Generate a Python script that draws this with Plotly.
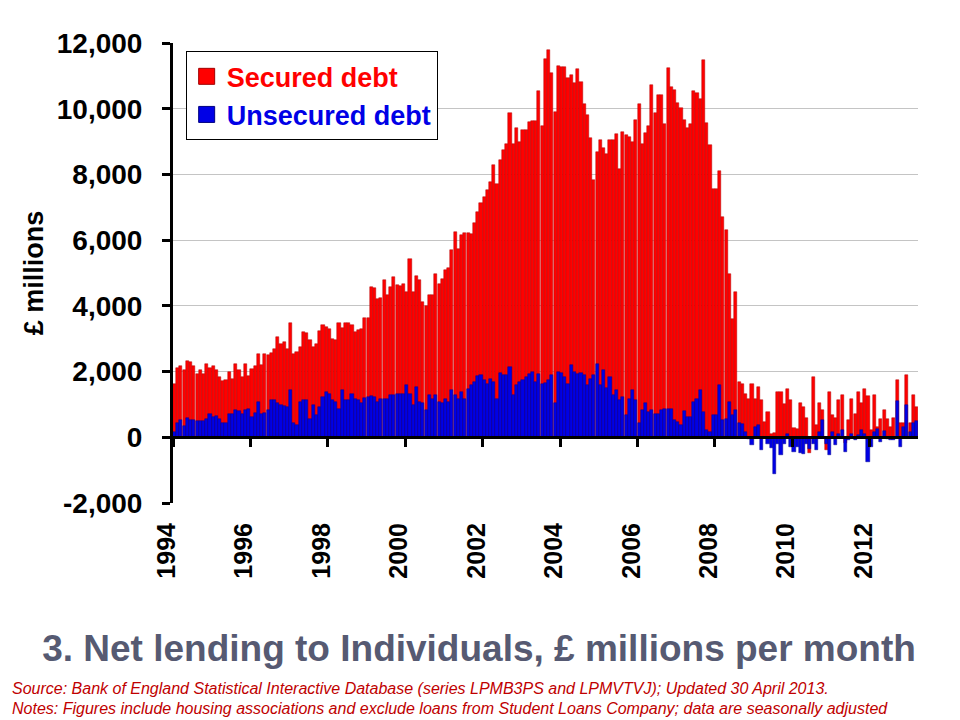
import pandas as pd
import plotly.graph_objects as go

# monthly net lending to individuals, Jan 1994 - Mar 2013 (GBP millions)
months = pd.date_range("1994-01-01", "2013-03-01", freq="MS")

# red bars (secured), as drawn from zero
secured_debt = [
    1630, 2120, 2180, 2040, 2310, 2290, 2160, 1940, 2040, 1940, 2240, 2120,  # 1994
    2160, 2060, 1820, 1700, 1740, 1990, 1760, 2220, 2040, 1820, 2240, 1860,  # 1995
    2090, 2160, 2520, 2190, 2520, 2500, 2570, 2700, 3060, 2850, 2900, 2700,  # 1996
    3490, 2530, 2600, 2750, 3210, 3180, 2950, 2750, 2850, 3230, 3410, 3360,  # 1997
    3310, 3000, 2970, 3490, 3340, 3490, 3490, 3410, 3210, 3260, 3290, 3640,  # 1998
    3630, 4580, 4530, 4220, 4250, 4780, 4320, 4580, 4880, 4630, 4600, 4680,  # 1999
    4430, 5440, 4430, 4900, 4780, 4120, 3990, 4320, 4320, 4980, 4680, 4830,  # 2000
    5090, 5140, 5690, 6250, 5740, 6150, 6230, 6230, 6180, 6510, 6860, 7120,  # 2001
    7320, 7520, 7770, 8280, 7720, 8430, 8740, 8940, 9860, 8940, 9400, 8990,  # 2002
    9350, 9350, 9600, 9630, 9630, 10540, 9470, 11500, 11800, 11100, 9900, 11300,  # 2003
    11280, 11280, 10920, 11040, 10770, 11210, 10800, 10130, 9800, 9120, 7830, 8690,  # 2004
    9060, 8810, 8610, 9060, 9040, 9240, 8180, 9300, 9200, 9150, 8990, 9650,  # 2005
    10130, 8940, 9250, 9480, 10720, 9860, 10410, 10410, 9550, 11250, 10670, 10570,  # 2006
    10160, 10030, 9650, 9420, 9550, 10540, 10490, 10310, 11480, 9580, 8890, 7550,  # 2007
    7550, 8100, 6710, 6300, 4960, 3610, 4420, 1680, 1630, 1330, 1180, 1630,  # 2008
    1180, 1530, 1150, 470, 770, 110, 120, 1370, 1370, 1000, 1460, 1130,  # 2009
    270, 260, 1030, 920, 600, -480, 1820, 370, 1030, 820, -380, 1380,  # 2010
    670, 600, 1130, 1280, -170, 520, 1180, 720, 1380, 1030, 1480, 1250,  # 2011
    210, 1280, 310, 570, 840, 570, 300, 600, 1740, 420, 450, 1910,  # 2012
    420, 1300, 920,  # 2013
]

# blue bars (unsecured), drawn in front
unsecured_debt = [
    160, 420, 520, 340, 600, 520, 520, 500, 500, 500, 570, 720,  # 1994
    620, 650, 570, 420, 420, 720, 700, 820, 790, 720, 840, 870,  # 1995
    620, 740, 1080, 720, 740, 820, 1130, 1150, 1030, 970, 940, 920,  # 1996
    1430, 420, 365, 1080, 1150, 1130, 570, 970, 670, 920, 1230, 1380,  # 1997
    1330, 1130, 1080, 870, 1450, 1130, 1130, 1310, 1180, 1130, 1030, 1210,  # 1998
    1230, 1250, 1230, 1080, 1180, 1180, 1160, 1280, 1280, 1310, 1330, 1330,  # 1999
    1580, 1330, 970, 1530, 1080, 1030, 820, 1280, 1180, 1280, 1080, 1030,  # 2000
    1180, 1080, 1430, 1280, 1180, 1380, 1180, 1480, 1580, 1680, 1860, 1890,  # 2001
    1730, 1630, 1780, 1680, 1180, 1960, 1890, 1890, 2140, 1280, 1580, 1680,  # 2002
    1730, 1830, 1930, 1990, 1680, 1930, 1630, 1650, 1750, 1890, 1030, 1990,  # 2003
    1970, 1840, 1630, 2190, 1990, 1940, 1970, 1890, 1580, 1780, 1890, 2240,  # 2004
    1580, 2040, 1490, 1840, 1280, 1430, 1130, 1230, 670, 1180, 1430, 1130,  # 2005
    420, 830, 1030, 770, 830, 720, 720, 830, 870, 870, 870, 520,  # 2006
    470, 360, 790, 620, 620, 1080, 1180, 1430, 770, 210, 160, 670,  # 2007
    670, 1580, 520, 560, 1080, 670, 830, 420, 400, 160, -40, -240,  # 2008
    300, 360, -400, 10, -190, -340, -1110, -190, -530, -190, 110, -290,  # 2009
    -450, -300, -480, -500, -190, -350, -190, -400, 160, 520, -190, -550,  # 2010
    160, -240, 90, 210, -450, -90, 90, -70, 60, 210, 100, -750,  # 2011
    -310, 160, 260, -140, 190, -40, -90, -90, 1100, -290, 300, 970,  # 2012
    150, 420, 500,  # 2013
]

y_ticks = [-2000, 0, 2000, 4000, 6000, 8000, 10000, 12000]
y_tick_labels = ["-2,000", "0", "2,000", "4,000", "6,000", "8,000", "10,000", "12,000"]
x_ticks = [f"{y}-01-01" for y in range(1994, 2013, 2)]
x_tick_labels = [str(y) for y in range(1994, 2013, 2)]

x_range = ["1994-01-01", "2013-04-01"]
y_range = [-2000, 12000]

red = "#ff0000"
blue = "#0000e6"

fig = go.Figure()
fig.add_trace(go.Bar(
    x=months, y=secured_debt, xperiod="M1", xperiodalignment="middle",
    name="Secured debt", showlegend=False,
    marker=dict(color=red, line=dict(color="#b00000", width=0.5)),
))
fig.add_trace(go.Bar(
    x=months, y=unsecured_debt, xperiod="M1", xperiodalignment="middle",
    name="Unsecured debt", showlegend=False,
    marker=dict(color=blue, line=dict(color="#000090", width=0.5)),
))

# legend entries (bigger square keys than the bar default)
fig.add_trace(go.Scatter(
    x=[None], y=[None], mode="markers",
    name=f"<span style='color:{red}'>Secured debt</span>",
    marker=dict(symbol="square", size=20, color=red, line=dict(color="#a00000", width=1)),
))
fig.add_trace(go.Scatter(
    x=[None], y=[None], mode="markers",
    name=f"<span style='color:{blue}'>Unsecured debt</span>",
    marker=dict(symbol="square", size=20, color=blue, line=dict(color="#000080", width=1)),
))

# invisible trace on the overlaying axis so that the zero-line axis with ticks is drawn
fig.add_trace(go.Scatter(x=[months[0]], y=[None], xaxis="x2", showlegend=False, hoverinfo="skip"))

fig.update_layout(
    width=960, height=720,
    barmode="overlay", bargap=0,
    plot_bgcolor="white", paper_bgcolor="white",
    margin=dict(l=173, r=42, t=43, b=217, autoexpand=False),
    font=dict(family="Liberation Sans, Arial, sans-serif", color="black"),
    showlegend=True,
    legend=dict(
        x=0.017, y=0.982, xanchor="left", yanchor="top",
        bgcolor="white", bordercolor="black", borderwidth=1,
        font=dict(size=27, weight="bold"),
        tracegroupgap=0,
    ),
    xaxis=dict(
        type="date", range=x_range, automargin=False,
        tickvals=x_ticks, ticktext=x_tick_labels, tickangle=-90,
        tickfont=dict(size=25, weight="bold"),
        ticklabelstandoff=14, ticklabelshift=-6,
        ticks="", showline=False, showgrid=False, zeroline=False,
    ),
    xaxis2=dict(
        type="date", range=x_range, overlaying="x", anchor="free", automargin=False,
        position=(0 - y_range[0]) / (y_range[1] - y_range[0]),
        tickvals=x_ticks, showticklabels=False,
        ticks="outside", ticklen=8, tickwidth=3, tickcolor="black",
        showline=True, linewidth=3, linecolor="black", showgrid=False,
    ),
    yaxis=dict(
        range=y_range, tickvals=y_ticks, ticktext=y_tick_labels, automargin=False,
        tickfont=dict(size=28, weight="bold"), ticklabelstandoff=14,
        ticks="outside", ticklen=8, tickwidth=3, tickcolor="black",
        showline=True, linewidth=3, linecolor="black",
        showgrid=True, gridcolor="#c4c4c4", gridwidth=1, zeroline=False,
        title=dict(text="£ millions", font=dict(size=27, weight="bold"), standoff=6),
    ),
    title=dict(
        text="3. Net lending to Individuals, £ millions per month",
        x=0.499, xref="container", xanchor="center",
        y=0.1, yref="container", yanchor="middle",
        font=dict(size=37, weight="bold", color="#565a72"),
    ),
    annotations=[
        dict(
            text="Source: Bank of England Statistical Interactive Database (series LPMB3PS and LPMVTVJ); Updated 30 April 2013.",
            xref="paper", yref="paper", x=-0.2188, y=-0.4043, xanchor="left", yanchor="middle",
            showarrow=False, font=dict(size=16, style="italic", color="#c00000"),
        ),
        dict(
            text="Notes: Figures include housing associations and exclude loans from Student Loans Company; data are seasonally adjusted",
            xref="paper", yref="paper", x=-0.2188, y=-0.4457, xanchor="left", yanchor="middle",
            showarrow=False, font=dict(size=16, style="italic", color="#c00000"),
        ),
    ],
)

# page body has an 8px default margin; drop it so the figure sits at the window's corner
fig.write_html("out.html", config={"displayModeBar": False},
               post_script="document.body.style.margin='0';")
